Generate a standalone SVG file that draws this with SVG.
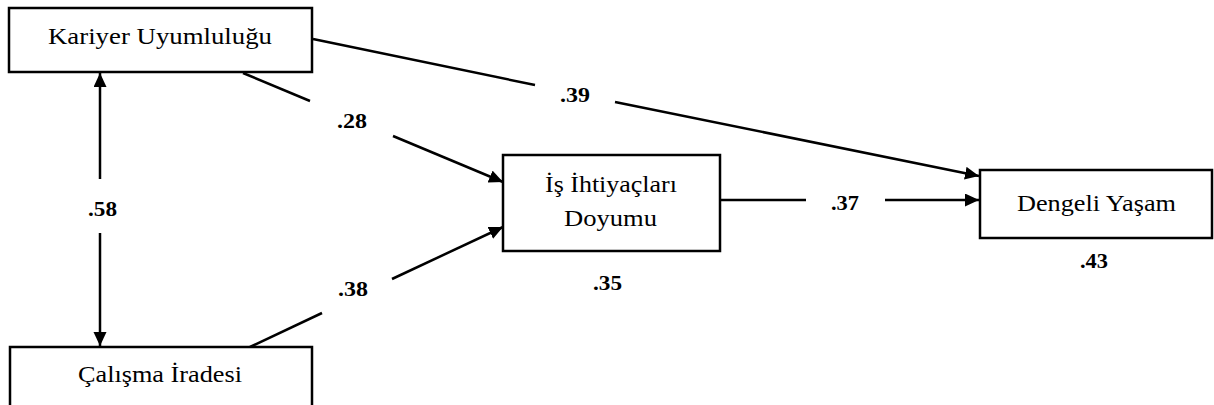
<svg xmlns="http://www.w3.org/2000/svg" width="1214" height="405" viewBox="0 0 1214 405">
<style>
.box{fill:#fff;stroke:#000;stroke-width:2.5}
.lbl{font-family:"Liberation Serif","Times New Roman",serif;font-size:23px;fill:#000;text-anchor:middle}
.num{font-family:"Liberation Serif","Times New Roman",serif;font-size:21px;font-weight:bold;fill:#000;text-anchor:middle}
.ln{fill:none;stroke:#000;stroke-width:2.5}
</style>
<defs>
<marker id="ah" markerUnits="userSpaceOnUse" markerWidth="15" markerHeight="14" refX="14" refY="6.5" orient="auto">
<path d="M0,0 L14,6.5 L0,13 z" fill="#000"/>
</marker>
</defs>
<rect x="0" y="0" width="1214" height="405" fill="#fff"/>
<g id="connectors">
<path class="ln" d="M313,39 L535,85"/>
<path class="ln" d="M615,102 L979,176" marker-end="url(#ah)"/>
<path class="ln" d="M243,73 L310,101"/>
<path class="ln" d="M393,136 L503,182" marker-end="url(#ah)"/>
<path class="ln" d="M250,347 L322,313"/>
<path class="ln" d="M392,279 L503,227" marker-end="url(#ah)"/>
<path class="ln" d="M720,200 L806,200"/>
<path class="ln" d="M885,200 L979,200" marker-end="url(#ah)"/>
<path class="ln" d="M100,179 L100,73" marker-end="url(#ah)"/>
<path class="ln" d="M100,233 L100,346" marker-end="url(#ah)"/>
<text class="num" x="352" y="128" textLength="30" lengthAdjust="spacingAndGlyphs">.28</text>
<text class="num" x="575" y="102" textLength="30" lengthAdjust="spacingAndGlyphs">.39</text>
<text class="num" x="102.5" y="216" textLength="29" lengthAdjust="spacingAndGlyphs">.58</text>
<text class="num" x="353" y="296" textLength="30" lengthAdjust="spacingAndGlyphs">.38</text>
<text class="num" x="845" y="210" textLength="28" lengthAdjust="spacingAndGlyphs">.37</text>
</g>
<g id="kariyer">
<rect class="box" x="9" y="8" width="303" height="64"/>
<text class="lbl" x="160" y="44" textLength="224" lengthAdjust="spacingAndGlyphs">Kariyer Uyumluluğu</text>
</g>
<g id="calisma">
<rect class="box" x="10" y="347" width="302" height="80"/>
<text class="lbl" x="160" y="382" textLength="164" lengthAdjust="spacingAndGlyphs">Çalışma İradesi</text>
</g>
<g id="is">
<rect class="box" x="503" y="155" width="217" height="96"/>
<text class="lbl" x="611" y="192" textLength="132" lengthAdjust="spacingAndGlyphs">İş İhtiyaçları</text>
<text class="lbl" x="610.5" y="226" textLength="93" lengthAdjust="spacingAndGlyphs">Doyumu</text>
<text class="num" x="607.5" y="290" textLength="29" lengthAdjust="spacingAndGlyphs">.35</text>
</g>
<g id="dengeli">
<rect class="box" x="980" y="170" width="232" height="68"/>
<text class="lbl" x="1096.5" y="211" textLength="159" lengthAdjust="spacingAndGlyphs">Dengeli Yaşam</text>
<text class="num" x="1094" y="268" textLength="28" lengthAdjust="spacingAndGlyphs">.43</text>
</g>
</svg>
